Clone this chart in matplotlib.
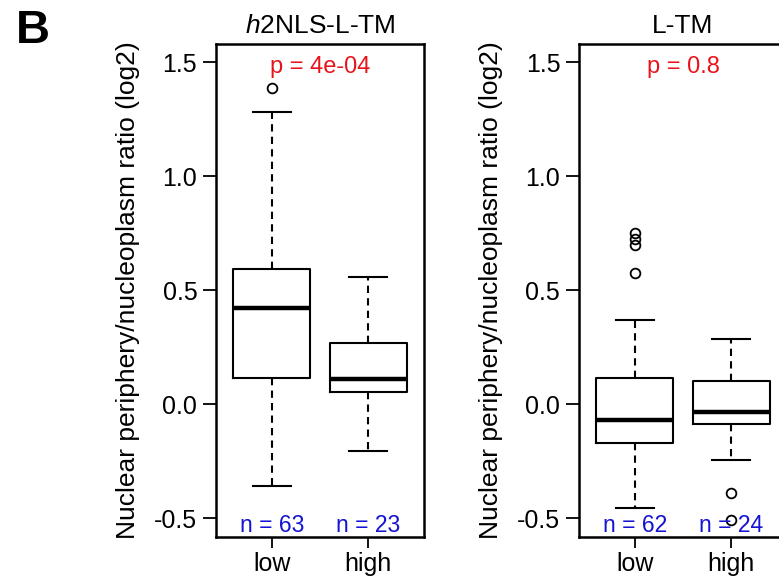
import matplotlib
matplotlib.use("Agg")
import matplotlib.pyplot as plt

plt.rcParams['font.family'] = ['Liberation Sans', 'DejaVu Sans']
plt.rcParams['mathtext.fontset'] = 'custom'
plt.rcParams['mathtext.rm'] = 'Liberation Sans'
plt.rcParams['mathtext.it'] = 'Liberation Sans:italic'

groups = ["low", "high"]
yticks = [-0.5, 0.0, 0.5, 1.0, 1.5]

# panel 1: h2NLS-L-TM
p1_title = r"$\mathit{h}$2NLS-L-TM"
p1_med = [0.42, 0.108]
p1_q1 = [0.113, 0.051]
p1_q3 = [0.593, 0.266]
p1_wlo = [-0.36, -0.206]
p1_whi = [1.282, 0.556]
p1_fliers = [[1.387], []]
p1_n = [63, 23]
p1_p = "p = 4e-04"

# panel 2: L-TM
p2_title = "L-TM"
p2_med = [-0.07, -0.034]
p2_q1 = [-0.17, -0.088]
p2_q3 = [0.113, 0.101]
p2_wlo = [-0.457, -0.247]
p2_whi = [0.37, 0.284]
p2_fliers = [[0.749, 0.722, 0.697, 0.573], [-0.389, -0.51]]
p2_n = [62, 24]
p2_p = "p = 0.8"

fig = plt.figure(figsize=(7.79, 5.78), dpi=100)

def panel(rect, title, med, q1, q3, wlo, whi, fliers, ns, ptxt):
    ax = fig.add_axes(rect)
    stats = []
    for i in range(len(groups)):
        stats.append(dict(med=med[i], q1=q1[i], q3=q3[i], whislo=wlo[i],
                          whishi=whi[i], fliers=fliers[i], label=groups[i]))
    ax.bxp(stats, positions=[1, 2], widths=0.8, capwidths=0.4,
           boxprops=dict(color='black', linewidth=1.5),
           medianprops=dict(color='black', linewidth=3.2),
           whiskerprops=dict(color='black', linewidth=1.5, linestyle=(0, (3.5, 2.5))),
           capprops=dict(color='black', linewidth=1.5),
           flierprops=dict(marker='o', markerfacecolor='none', markeredgecolor='black',
                           markersize=7, markeredgewidth=1.3))
    ax.set_xlim(0.42, 2.58)
    ax.set_ylim(-0.583, 1.579)
    ax.set_yticks(yticks)
    ax.set_yticklabels([f"{v:.1f}" for v in yticks])
    ax.set_xticks([1, 2])
    ax.set_xticklabels(groups)
    ax.tick_params(axis='y', labelsize=18, length=9.5, width=1.3, direction='out', pad=4)
    ax.tick_params(axis='x', labelsize=18, length=8, width=1.3, direction='out', pad=3)
    for s in ax.spines.values():
        s.set_linewidth(1.8)
    ax.set_ylabel("Nuclear periphery/nucleoplasm ratio (log2)", fontsize=19, labelpad=10)
    ax.text(1.5, 1.48, ptxt, color='#e8141c', fontsize=17, ha='center', va='center')
    for i, n in enumerate(ns):
        ax.text(i + 1, -0.532, f"n = {n}", color='#1414d2', fontsize=16.5,
                ha='center', va='center')
    ax.annotate(title, xy=(0.5, 1.0), xycoords='axes fraction',
                xytext=(0, 8), textcoords='offset points',
                fontsize=19, ha='center', va='baseline')
    return ax

panel([216/779, 41/578, 208/779, 493/578], p1_title, p1_med, p1_q1, p1_q3,
      p1_wlo, p1_whi, p1_fliers, p1_n, p1_p)
panel([579/779, 41/578, 208/779, 493/578], p2_title, p2_med, p2_q1, p2_q3,
      p2_wlo, p2_whi, p2_fliers, p2_n, p2_p)

fig.text(16/779, 1 - 31/578, "B", fontsize=34, fontweight='bold', ha='left', va='center')

fig.savefig("out.png", dpi=100)
